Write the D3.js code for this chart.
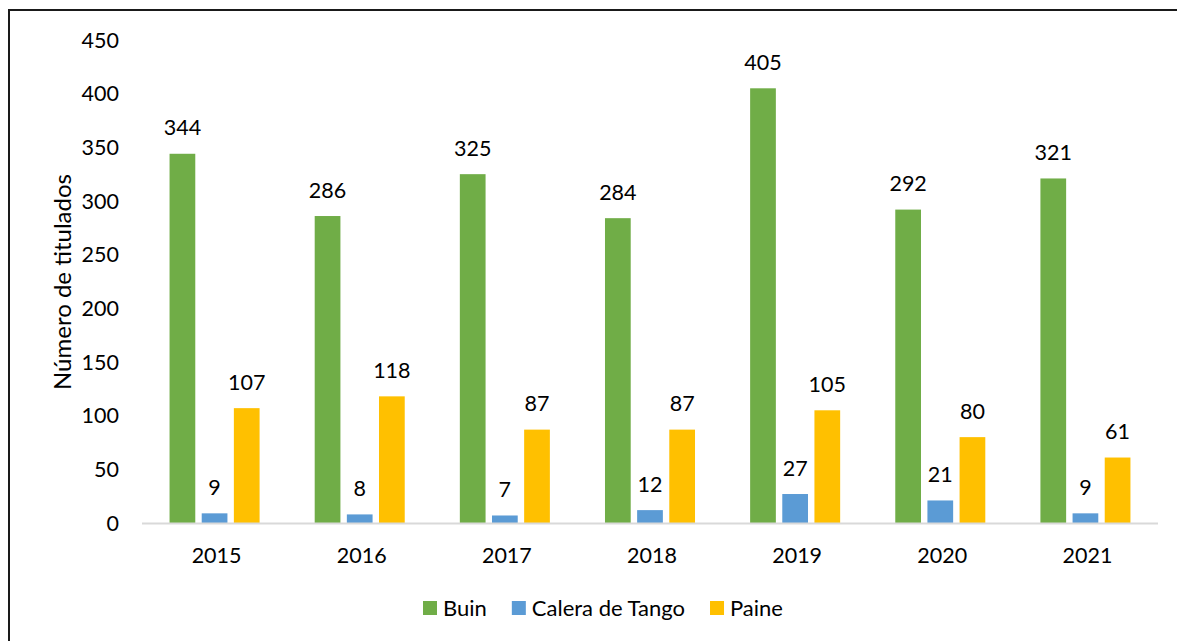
<!DOCTYPE html>
<html>
<head>
<meta charset="utf-8">
<script src="https://cdn.jsdelivr.net/npm/d3@7"></script>
<style>
  body { margin: 0; background: #fff; overflow: hidden; }
  svg { display: block; font-family: Lato, "Open Sans", sans-serif; }
</style>
</head>
<body>
<svg width="1177" height="641"></svg>
<script>
var years = ["2015", "2016", "2017", "2018", "2019", "2020", "2021"];
var series = ["Buin", "Calera de Tango", "Paine"];
var buin = [344, 286, 325, 284, 405, 292, 321];
var calera = [9, 8, 7, 12, 27, 21, 9];
var paine = [107, 118, 87, 87, 105, 80, 61];
var colors = ["#70ad47", "#5b9bd5", "#ffc000"];
var yTicks = [0, 50, 100, 150, 200, 250, 300, 350, 400, 450];

var values = [buin, calera, paine];
var rows = years.map(function(y, i) {
  return { year: y, vals: series.map(function(s, j) { return { key: s, idx: j, v: values[j][i] }; }) };
});

var svg = d3.select("svg");

// frame: only the top and left edges show in the picture
svg.append("path")
    .attr("d", "M9,641V10H1177")
    .attr("fill", "none")
    .attr("stroke", "#1a1a1a")
    .attr("stroke-width", 2);

var x0 = d3.scaleBand().domain(years).range([142, 1158]);
var x1 = d3.scaleBand().domain(series).range([0, x0.bandwidth()])
    .paddingInner(0.2).paddingOuter(0.857);
var y = d3.scaleLinear().domain([0, 450]).range([523, 40]);

// y tick labels
svg.append("g").selectAll("text")
    .data(yTicks)
    .enter().append("text")
    .attr("x", 119)
    .attr("y", function(d) { return y(d); })
    .attr("dy", "0.35em")
    .attr("text-anchor", "end")
    .attr("font-size", 21.5)
    .text(function(d) { return d; });

// y title
svg.append("text")
    .attr("transform", "translate(63,282) rotate(-90)")
    .attr("dy", "0.35em")
    .attr("text-anchor", "middle")
    .attr("font-size", 24)
    .text("Número de titulados");

var groups = svg.append("g").selectAll("g")
    .data(rows)
    .enter().append("g")
    .attr("transform", function(d) { return "translate(" + x0(d.year) + ",0)"; });

groups.selectAll("rect")
    .data(function(d) { return d.vals; })
    .enter().append("rect")
    .attr("x", function(d) { return x1(d.key); })
    .attr("y", function(d) { return y(d.v); })
    .attr("width", x1.bandwidth())
    .attr("height", function(d) { return y(0) - y(d.v); })
    .attr("fill", function(d) { return colors[d.idx]; });

groups.selectAll("text")
    .data(function(d) { return d.vals; })
    .enter().append("text")
    .attr("x", function(d) { return x1(d.key) + x1.bandwidth() / 2; })
    .attr("y", function(d) { return y(d.v) - 26; })
    .attr("dy", "0.35em")
    .attr("text-anchor", "middle")
    .attr("font-size", 21.5)
    .text(function(d) { return d.v; });

// x axis line
svg.append("line")
    .attr("x1", 142).attr("x2", 1158)
    .attr("y1", y(0) + 0.5).attr("y2", y(0) + 0.5)
    .attr("stroke", "#d9d9d9")
    .attr("stroke-width", 2);

svg.append("g").selectAll("text")
    .data(years)
    .enter().append("text")
    .attr("x", function(d) { return x0(d) + x0.bandwidth() / 2 + 2; })
    .attr("y", 555)
    .attr("dy", "0.35em")
    .attr("text-anchor", "middle")
    .attr("font-size", 21.5)
    .text(function(d) { return d; });

// legend
var legend = svg.append("g").attr("transform", "translate(423,608)");
var lx = 0;
series.forEach(function(s, i) {
  var item = legend.append("g").attr("transform", "translate(" + lx + ",0)");
  item.append("rect")
      .attr("x", 0).attr("y", -7)
      .attr("width", 14).attr("height", 14)
      .attr("fill", colors[i]);
  var t = item.append("text")
      .attr("x", 20)
      .attr("dy", "0.35em")
      .attr("font-size", 22)
      .text(s);
  lx += 20 + t.node().getComputedTextLength() + 25;
});
</script>
</body>
</html>
